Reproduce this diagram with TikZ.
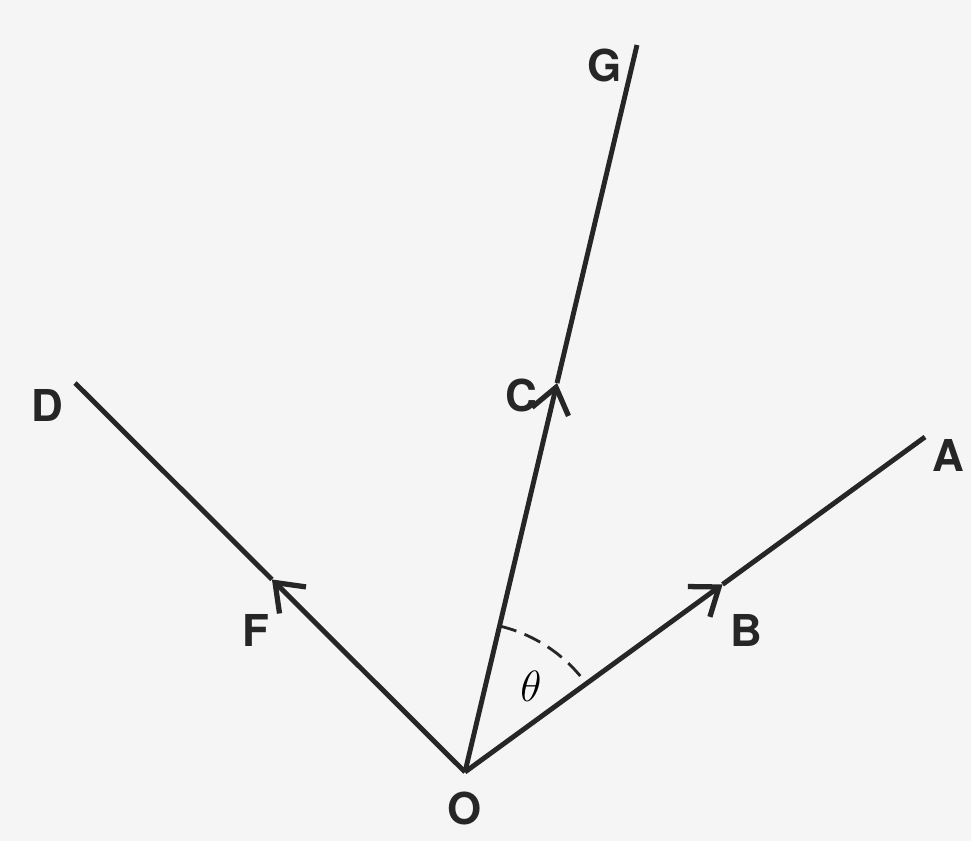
\documentclass[tikz,border=0pt]{standalone}
\usepackage{fontspec}
\setmainfont{TeX Gyre Heros}
\usetikzlibrary{arrows.meta,calc}
\begin{document}
\begin{tikzpicture}[
    x=0.02cm, y=-0.02cm,      % 以像素为单位
    >={Straight Barb[length=5mm,width=7.5mm,line width=3pt]},
    ray/.style={line width=2.8pt, black!85},
    lab/.style={font=\fontsize{25}{25}\selectfont\bfseries, black!85}
]
    \useasboundingbox[fill=black!4] (0,0) rectangle (971,841);

    % --- 1. 端点 (Points) ---
    \coordinate (O) at (465, 772);
    \coordinate (A) at (925, 437);
    \coordinate (G) at (637, 45);
    \coordinate (D) at (75, 383);
    \coordinate (B) at ($(O)!0.56!(A)$);
    \coordinate (C) at ($(O)!0.535!(G)$);
    \coordinate (F) at ($(O)!0.495!(D)$);

    % --- 2. 射线与箭头 (Rays) ---
    \draw[ray, ->] (O) -- (B);
    \draw[ray] (B) -- (A);
    \draw[ray, ->] (O) -- (C);
    \draw[ray] (C) -- (G);
    \draw[ray, ->] (O) -- (F);
    \draw[ray] (F) -- (D);

    % --- 3. 角 theta (虚线弧) ---
    \draw[line width=1.6pt, black!85, dash pattern=on 10pt off 5pt]
        ($(O)+(-76.7:150)$) arc[start angle=-76.7, end angle=-36.1, radius=150];
    \node (theta) at (531, 686) {\fontsize{23}{23}\selectfont$\theta$};

    % --- 4. 标签 (Labels) ---
    \node[lab] (labO) at (465, 808) {O};
    \node[lab] (labA) at (948, 455) {A};
    \node[lab] (labB) at (746, 630) {B};
    \node[lab] (labC) at (521, 395) {C};
    \node[lab] (labD) at (47, 405) {D};
    \node[lab] (labF) at (256, 630) {F};
    \node[lab] (labG) at (605, 65) {G};

\end{tikzpicture}
\end{document}
